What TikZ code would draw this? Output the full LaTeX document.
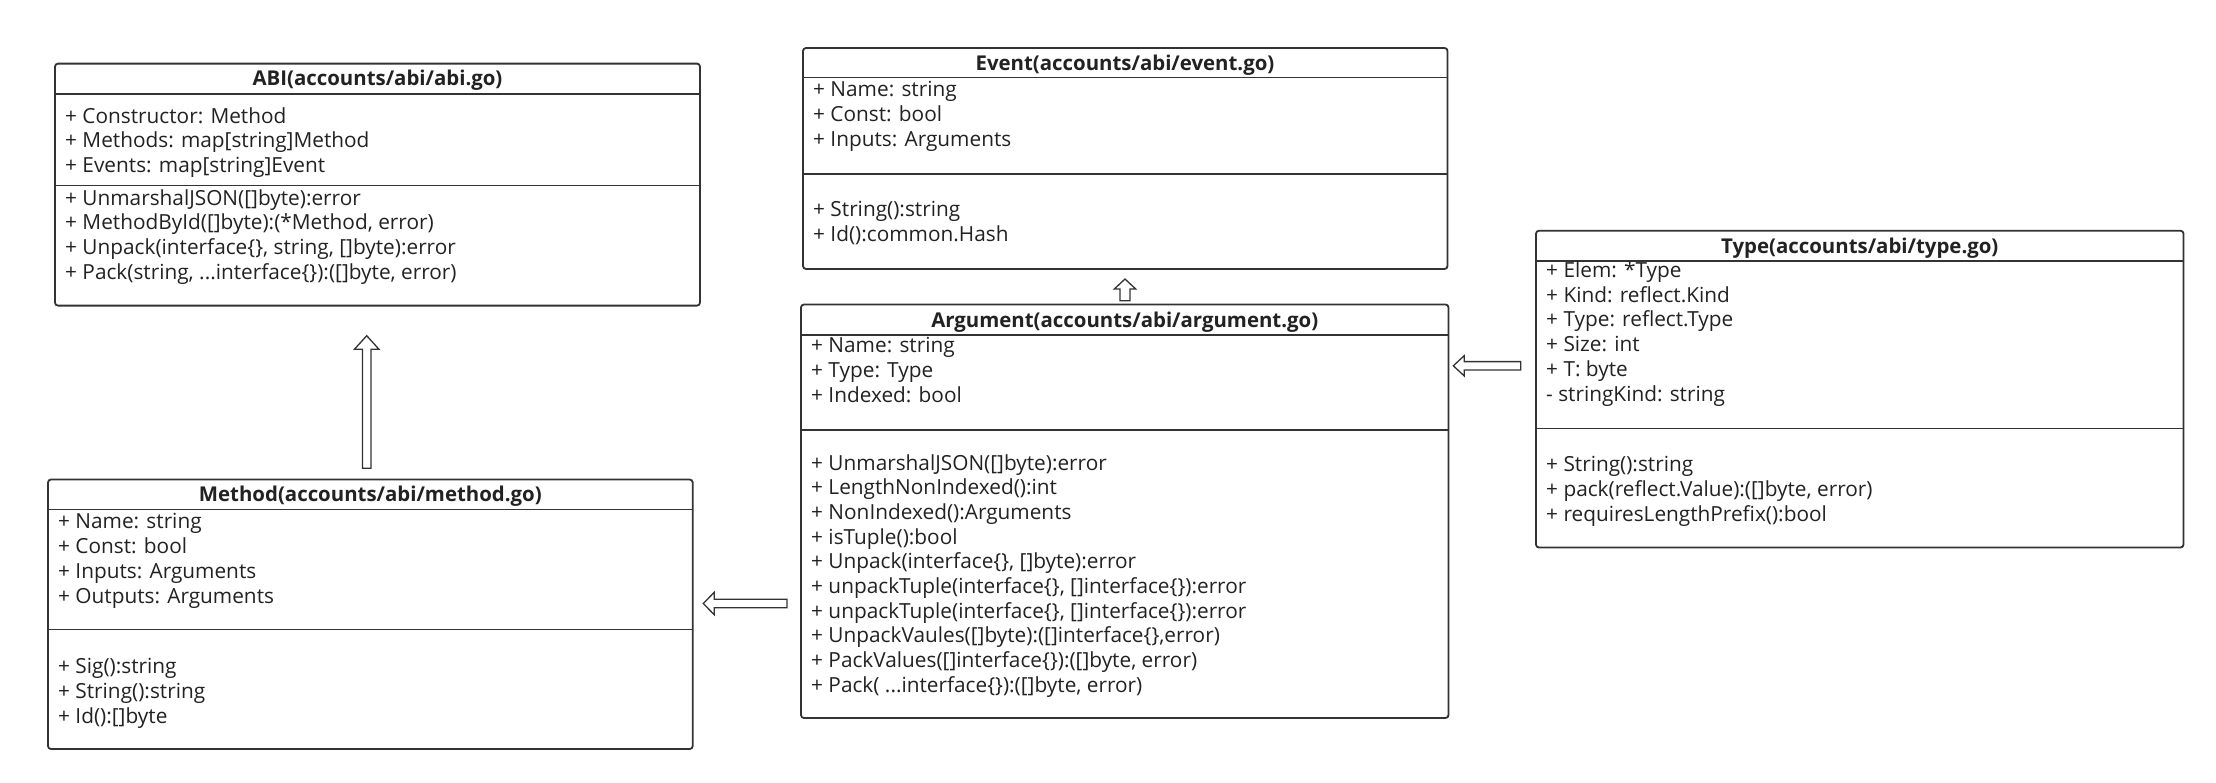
\documentclass[tikz,border=0pt]{standalone}
\usepackage{fontspec}
\setmainfont{Open Sans}
\usetikzlibrary{calc}
\definecolor{linec}{HTML}{333333}
\definecolor{textc}{HTML}{222222}
\newcommand\mydots{...}
\begin{document}
\begin{tikzpicture}[x=1pt,y=-1pt,
  umlbox/.style={draw=linec, line width=1.8pt, rounded corners=3pt, fill=white,
                 anchor=north west, inner sep=0pt, outer sep=0pt},
  sep/.style={draw=linec, line width=1.8pt},
  title/.style={font=\fontsize{20.4}{24}\selectfont\bfseries, text=textc, inner sep=0pt, anchor=base},
  item/.style={font=\fontsize{20.8}{24}\selectfont, text=textc, inner sep=0pt, anchor=base west},
  arrowst/.style={draw=linec, line width=1.3pt, fill=white, line join=miter},
  hollow/.style n args={3}{to path={
    let \p1=(\tikztostart), \p2=(\tikztotarget),
        \n1={atan2(\y2-\y1,\x2-\x1)}, \n2={veclen(\x2-\x1,\y2-\y1)}
    in [shift={(\p1)}, rotate=\n1]
    (0,-#3) -- ({\n2-#1},-#3) -- ({\n2-#1},-#2) -- (\n2,0) -- ({\n2-#1},#2)
    -- ({\n2-#1},#3) -- (0,#3) -- cycle}}
]
\useasboundingbox[fill=white] (0,0) rectangle (2216,782);

% ---------- ABI ----------
\node[umlbox, minimum width=645, minimum height=242] (abi) at (55,63.6) {};
\draw[sep] (abi.west |- 0,94) -- (abi.east |- 0,94);
\draw[sep] (abi.west |- 0,185.5) -- (abi.east |- 0,185.5);
\node[title] (abiT) at (377.5,85) {ABI(accounts/abi/abi.go)};
\foreach \t [count=\i from 0] in {{+ Constructor: Method},{+ Methods: map[string]Method},{+ Events: map[string]Event}}
  \node[item] (abiA\i) at (65,{123+24.7*\i}) {\t};
\foreach \t [count=\i from 0] in {{+ UnmarshalJSON([]byte):error},{+ MethodById([]byte):(*Method, error)},{+ Unpack(interface\{\}, string, []byte):error},{+ Pack(string, \mydots interface\{\}):([]byte, error)}}
  \node[item] (abiM\i) at (65,{205+24.7*\i}) {\t};

% ---------- Event ----------
\node[umlbox, minimum width=644.5, minimum height=221] (event) at (803,48) {};
\draw[sep] (event.west |- 0,77.5) -- (event.east |- 0,77.5);
\draw[sep] (event.west |- 0,174) -- (event.east |- 0,174);
\node[title] (eventT) at (1125,70) {Event(accounts/abi/event.go)};
\foreach \t [count=\i from 0] in {{+ Name: string},{+ Const: bool},{+ Inputs: Arguments}}
  \node[item] (eventA\i) at (813,{96.7+24.7*\i}) {\t};
\foreach \t [count=\i from 0] in {{+ String():string},{+ Id():common.Hash}}
  \node[item] (eventM\i) at (813,{216.7+24.7*\i}) {\t};

% ---------- Argument ----------
\node[umlbox, minimum width=647.5, minimum height=413.5] (arg) at (801,304.5) {};
\draw[sep] (arg.west |- 0,335) -- (arg.east |- 0,335);
\draw[sep] (arg.west |- 0,430) -- (arg.east |- 0,430);
\node[title] (argT) at (1124.75,327) {Argument(accounts/abi/argument.go)};
\foreach \t [count=\i from 0] in {{+ Name: string},{+ Type: Type},{+ Indexed: bool}}
  \node[item] (argA\i) at (811,{352.7+24.7*\i}) {\t};
\foreach \t [count=\i from 0] in {{+ UnmarshalJSON([]byte):error},{+ LengthNonIndexed():int},{+ NonIndexed():Arguments},{+ isTuple():bool},{+ Unpack(interface\{\}, []byte):error},{+ unpackTuple(interface\{\}, []interface\{\}):error},{+ unpackTuple(interface\{\}, []interface\{\}):error},{+ UnpackVaules([]byte):([]interface\{\},error)},{+ PackValues([]interface\{\}):([]byte, error)},{+ Pack( \mydots interface\{\}):([]byte, error)}}
  \node[item] (argM\i) at (811,{470+24.7*\i}) {\t};

% ---------- Type ----------
\node[umlbox, minimum width=647.5, minimum height=316.8] (type) at (1536,230.7) {};
\draw[sep] (type.west |- 0,261) -- (type.east |- 0,261);
\draw[sep] (type.west |- 0,428.5) -- (type.east |- 0,428.5);
\node[title] (typeT) at (1859.75,253.3) {Type(accounts/abi/type.go)};
\foreach \t [count=\i from 0] in {{+ Elem: *Type},{+ Kind: reflect.Kind},{+ Type: reflect.Type},{+ Size: int},{+ T: byte},{- stringKind: string}}
  \node[item] (typeA\i) at (1546,{277.3+24.8*\i}) {\t};
\foreach \t [count=\i from 0] in {{+ String():string},{+ pack(reflect.Value):([]byte, error)},{+ requiresLengthPrefix():bool}}
  \node[item] (typeM\i) at (1546,{471.7+24.8*\i}) {\t};

% ---------- Method ----------
\node[umlbox, minimum width=644.7, minimum height=269.5] (method) at (48,479.5) {};
\draw[sep] (method.west |- 0,509.5) -- (method.east |- 0,509.5);
\draw[sep] (method.west |- 0,629.5) -- (method.east |- 0,629.5);
\node[title] (methodT) at (370.35,501.7) {Method(accounts/abi/method.go)};
\foreach \t [count=\i from 0] in {{+ Name: string},{+ Const: bool},{+ Inputs: Arguments},{+ Outputs: Arguments}}
  \node[item] (methodA\i) at (58,{528.3+25*\i}) {\t};
\foreach \t [count=\i from 0] in {{+ Sig():string},{+ String():string},{+ Id():[]byte}}
  \node[item] (methodM\i) at (58,{673.3+25*\i}) {\t};

% ---------- connectors ----------
\coordinate (m2a-s) at (366.7,468.3);
\coordinate (m2a-e) at (366.7,335.7);
\coordinate (a2e-s) at (1125,300.7);
\coordinate (a2e-e) at (1125,279);
\coordinate (a2m-s) at (787,603.5);
\coordinate (a2m-e) at (703.3,603.5);
\coordinate (t2a-s) at (1520.7,365.8);
\coordinate (t2a-e) at (1453.3,365.8);
\draw[arrowst, hollow={13.6}{12.3}{4.3}] (m2a-s) to (m2a-e);
\draw[arrowst, hollow={10}{10.7}{5}] (a2e-s) to (a2e-e);
\draw[arrowst, hollow={11}{11.3}{4.2}] (a2m-s) to (a2m-e);
\draw[arrowst, hollow={11}{10.2}{4.2}] (t2a-s) to (t2a-e);
\end{tikzpicture}
\end{document}
